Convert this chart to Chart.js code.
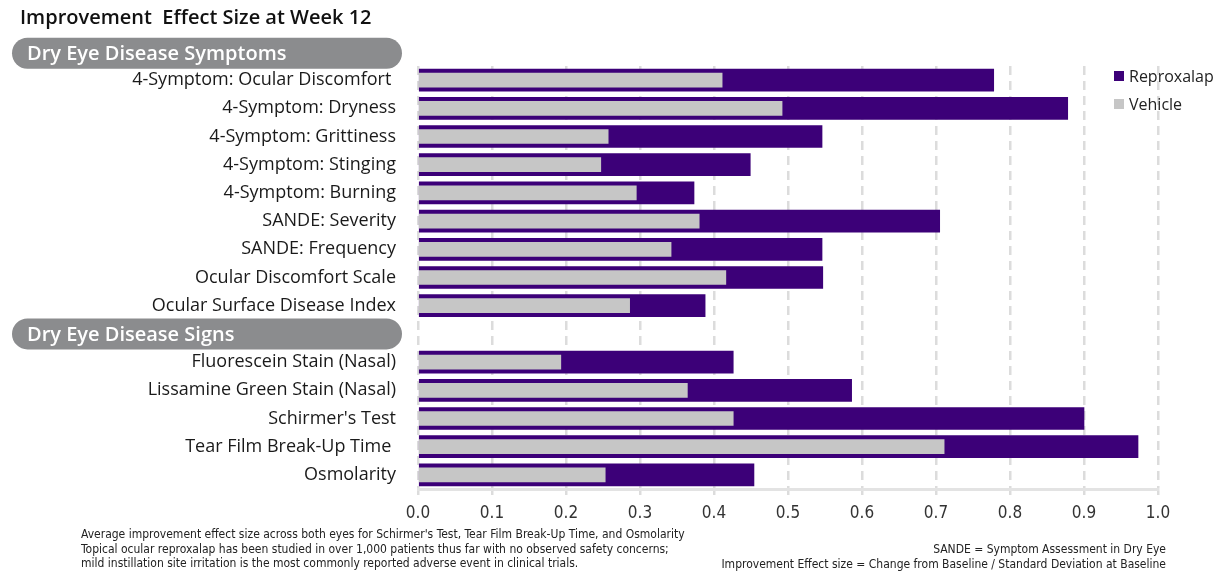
<!DOCTYPE html>
<html>
<head>
<meta charset="utf-8">
<script src="https://cdn.jsdelivr.net/npm/chart.js@4"></script>
<style>
  body { margin: 0; background: #fff; }
  #wrap { position: relative; width: 1228px; height: 580px; }
  .note { position: absolute; font-family: "Liberation Sans Narrow", "DejaVu Sans Condensed", sans-serif; font-size: 12px; color: #222; line-height: 14.5px; white-space: nowrap; }
</style>
</head>
<body>
<div id="wrap">
  <canvas id="effectChart"></canvas>
  <div class="note" style="left:81px; top:527px;">Average improvement effect size across both eyes for Schirmer's Test, Tear Film Break-Up Time, and Osmolarity<br>Topical ocular reproxalap has been studied in over 1,000 patients thus far with no observed safety concerns;<br>mild instillation site irritation is the most commonly reported adverse event in clinical trials.</div>
  <div class="note" style="right:62px; top:542px; text-align:right;">SANDE = Symptom Assessment in Dry Eye<br>Improvement Effect size = Change from Baseline / Standard Deviation at Baseline</div>
</div>
<script>
// Data (blank row = section break)
const categories = [
  '4-Symptom: Ocular Discomfort ',
  '4-Symptom: Dryness',
  '4-Symptom: Grittiness',
  '4-Symptom: Stinging',
  '4-Symptom: Burning',
  'SANDE: Severity',
  'SANDE: Frequency',
  'Ocular Discomfort Scale',
  'Ocular Surface Disease Index',
  '',
  'Fluorescein Stain (Nasal)',
  'Lissamine Green Stain (Nasal)',
  "Schirmer's Test",
  'Tear Film Break-Up Time ',
  'Osmolarity'
];
const reproxalap = [0.778, 0.878, 0.546, 0.449, 0.373, 0.705, 0.546, 0.547, 0.388, null, 0.426, 0.586, 0.900, 0.973, 0.454];
const vehicle    = [0.411, 0.492, 0.257, 0.247, 0.295, 0.380, 0.342, 0.416, 0.286, null, 0.193, 0.364, 0.426, 0.711, 0.253];
const sections = ['Dry Eye Disease Symptoms', 'Dry Eye Disease Signs'];
const sectionRows = [-1, 9]; // row index each section header sits on
const xTicks = [0, 0.1, 0.2, 0.3, 0.4, 0.5, 0.6, 0.7, 0.8, 0.9, 1.0];

const purple = '#3c0078';
const grey = '#c6c6c6';

// title, section pills and legend
const decorations = {
  id: 'decorations',
  afterDraw(chart) {
    const ctx = chart.ctx;
    const y = chart.scales.y;
    const step = y.getPixelForValue(1) - y.getPixelForValue(0);
    ctx.save();
    ctx.fillStyle = '#111';
    ctx.font = '600 20px "Open Sans"';
    ctx.textBaseline = 'middle';
    ctx.textAlign = 'left';
    ctx.fillText('Improvement  Effect Size at Week 12', 20, 18);

    sections.forEach((name, i) => {
      const cy = sectionRows[i] < 0 ? y.getPixelForValue(0) - step * 0.95 : y.getPixelForValue(sectionRows[i]);
      const h = 31, x0 = 12, x1 = 402, r = h / 2;
      ctx.fillStyle = '#8b8c8e';
      ctx.beginPath();
      ctx.roundRect(x0, cy - r, x1 - x0, h, r);
      ctx.fill();
      ctx.fillStyle = '#fff';
      ctx.font = '600 20px "Open Sans"';
      ctx.fillText(name, 27, cy + 1);
    });

    chart.data.datasets.forEach((ds, i) => {
      const cy = 76 + i * 28;
      ctx.fillStyle = ds.backgroundColor;
      ctx.fillRect(1114, cy - 5, 10, 10);
      ctx.fillStyle = '#222';
      ctx.font = '16px "Open Sans"';
      ctx.fillText(ds.label, 1129, cy + 1);
    });
    ctx.restore();
  }
};

const ctx = document.getElementById('effectChart').getContext('2d');
const effectChart = new Chart(ctx, {
  type: 'bar',
  data: {
    labels: categories,
    datasets: [
      { label: 'Reproxalap', data: reproxalap, backgroundColor: purple, barThickness: 22, grouped: false, order: 2 },
      { label: 'Vehicle', data: vehicle, backgroundColor: grey, barThickness: 14, grouped: false, order: 1 }
    ]
  },
  options: {
    indexAxis: 'y',
    responsive: true,
    maintainAspectRatio: false,
    animation: false,
    layout: { padding: { top: 66, right: 70, bottom: 0, left: 0 } },
    plugins: {
      legend: { display: false },
      tooltip: { enabled: false }
    },
    scales: {
      x: {
        min: 0,
        max: 1,
        afterBuildTicks(scale) { scale.ticks = xTicks.map(v => ({ value: v })); },
        afterFit(scale) { scale.height = 91; },
        ticks: {
          callback: v => Number(v).toFixed(1),
          color: '#333',
          font: { family: '"Liberation Sans Narrow", "DejaVu Sans Condensed", sans-serif', size: 17 },
          padding: 8
        },
        grid: { color: '#dcdcdc', lineWidth: 2.5, tickLength: 6, tickColor: '#dcdcdc', tickBorderDash: [0, 0] },
        border: { display: true, color: '#e3e3e3', width: 3, dash: [9, 6] }
      },
      y: {
        afterFit(scale) { scale.width = 418; },
        grid: { display: false },
        border: { display: false },
        ticks: {
          color: '#1a1a1a',
          font: { family: '"Open Sans"', size: 18 },
          padding: 14
        }
      }
    }
  },
  plugins: [decorations]
});
</script>
</body>
</html>
